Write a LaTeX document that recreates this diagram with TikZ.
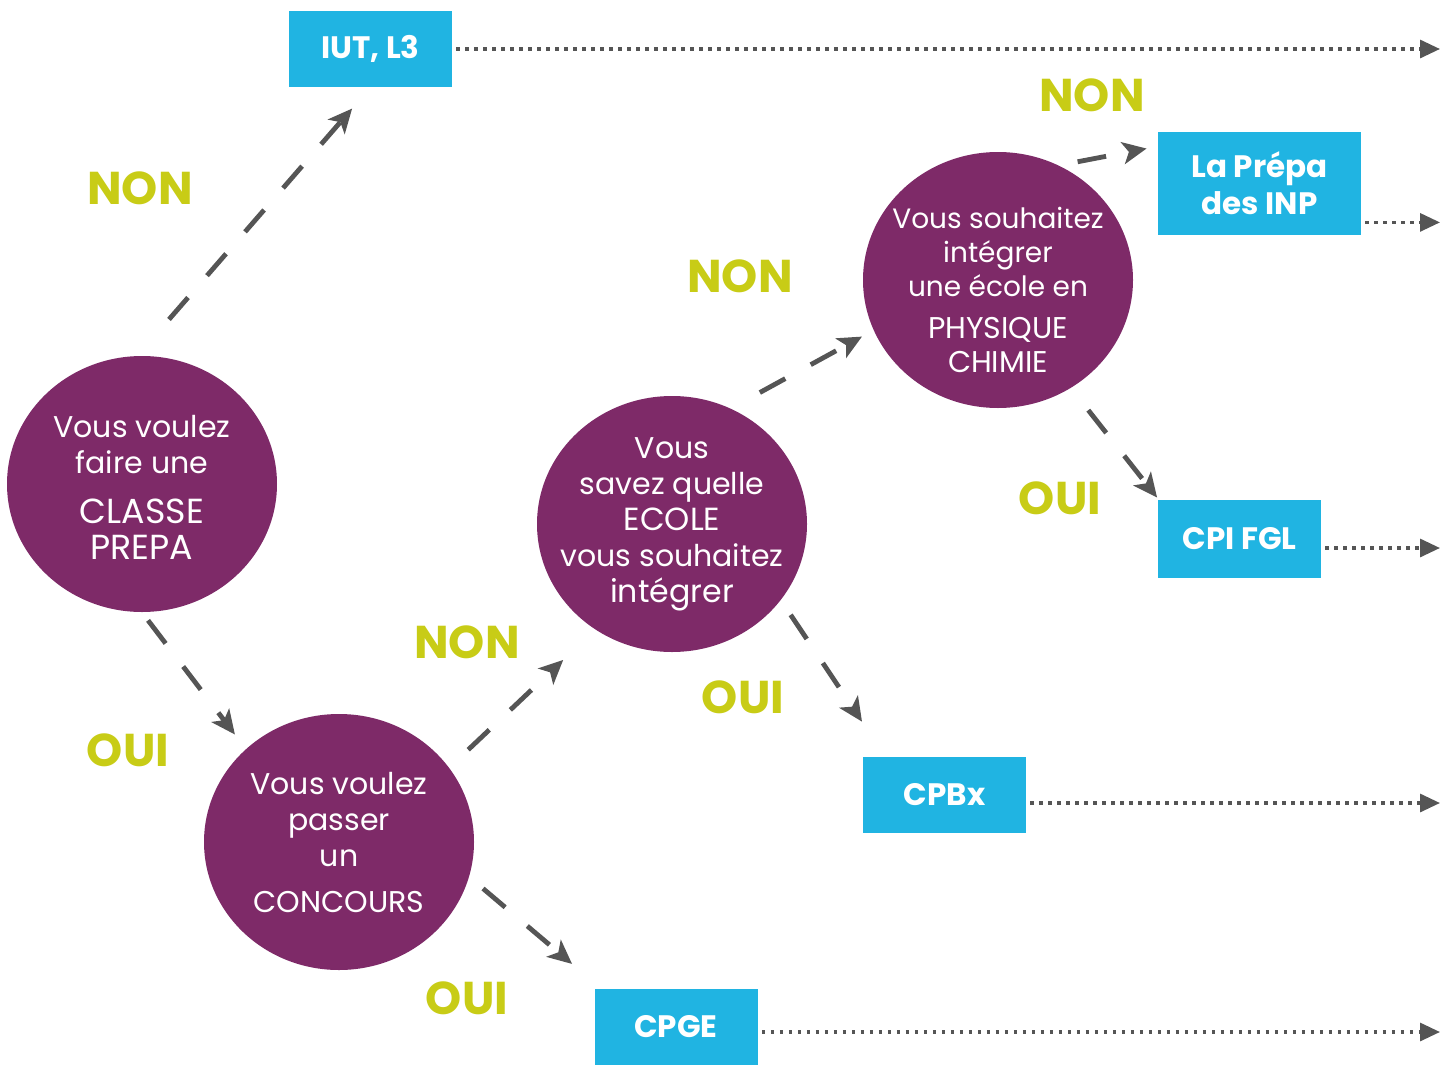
\documentclass[tikz,border=0pt]{standalone}
\usepackage{fontspec}
\setmainfont{Poppins}
\usepackage{xcolor}
\usepackage{tikz}
\usetikzlibrary{arrows,arrows.meta,positioning,shapes,calc}
\definecolor{prune}{RGB}{126,42,104}
\definecolor{ciel}{RGB}{32,180,226}
\definecolor{anis}{RGB}{200,204,22}
\definecolor{ardoise}{RGB}{85,85,85}
\newcommand{\grand}[2]{{\fontsize{#1}{18}\selectfont #2}}

\begin{document}
\begin{tikzpicture}[x = .5pt, y = -.5pt,
    bulle/.style = {ellipse, fill = prune, text = white, inner sep = -20pt, minimum width = 135pt, minimum height = 128pt, align = center, font = \fontsize{15}{18}\selectfont},
    boite/.style = {rectangle, fill = ciel, text = white, inner sep = 0pt, minimum width = 81.5pt, minimum height = 38pt, align = center, font = \bfseries\fontsize{15.5}{18.5}\selectfont},
    choix/.style = {text = anis, font = \bfseries\fontsize{23}{23}\selectfont},
    fleche/.style = {draw = ardoise, line width = 2.4pt, dash pattern = on 14.5pt off 14.5pt, -{Stealth[length = 12pt, width = 11pt, inset = 3pt]}},
    suite/.style = {draw = ardoise, line width = 1.6pt, dash pattern = on 1.6pt off 2.9pt, -{Triangle[length = 10pt, width = 9pt]}, shorten <= 2pt}]
    \useasboundingbox (0,0) rectangle (1447,1066);

    \node[bulle] (classe) at (142,484) {\rule{0pt}{14pt}Vous voulez\\faire une\\[7pt] \grand{17.4}{CLASSE}\\\grand{17.4}{PREPA}};
    \node[bulle] (concours) at (339,842) {Vous voulez\\passer\\un\\[5pt] CONCOURS};
    \node[bulle] (ecole) at (672,524) {Vous\\savez quelle\\\grand{16}{ECOLE}\\vous souhaitez\\\grand{15.8}{intégrer}};
    \node[bulle, font = \fontsize{14}{17}\selectfont] (physique) at (998,280) {\rule{0pt}{21pt}Vous souhaitez\\intégrer\\une école en\\[4pt] \grand{15}{PHYSIQUE}\\\grand{15}{CHIMIE}};

    \node[boite] (iut) at (370.5,49) {IUT, L3};
    \node[boite, minimum width = 101.5pt, minimum height = 51.5pt] (prepa) at (1259.5,183.5) {La Prépa\\des INP};
    \node[boite, minimum height = 39pt] (cpi) at (1239.5,539) {CPI FGL};
    \node[boite] (cpbx) at (944.5,795) {CPBx};
    \node[boite] (cpge) at (676,1026.5) {CPGE};

    \draw[fleche, shorten <= 24pt, shorten >= 14pt] (classe.92) -- (iut.south);
    \draw[fleche, shorten <= 5pt, shorten >= 9pt] (classe.270) -- (concours.135);
    \draw[fleche, shorten <= 13pt, shorten >= 22pt] (concours.34) -- (ecole.234);
    \draw[fleche, shorten <= 9pt, shorten >= 18.7pt] (concours.345) -- (cpge.153);
    \draw[fleche, shorten <= 16.5pt, shorten >= 6.5pt] (ecole.63) -- (physique.202);
    \draw[fleche, shorten <= 8.75pt, shorten >= 21pt] (ecole.325) -- (cpbx.147);
    \draw[fleche, shorten <= 9.5pt, shorten >= 5.6pt] (physique.62) -- (prepa.160);
    \draw[fleche, shorten <= 14pt, shorten >= 1.3pt] (physique.304) -- (cpi.154);

    % Sorties
    \coordinate (bout) at (1440,0);
    \coordinate (s1) at (iut.east);
    \coordinate (s2) at ([yshift = 6.5pt]prepa.south east);
    \coordinate (s3) at ([yshift = -4.5pt]cpi.east);
    \coordinate (s4) at ([yshift = -4pt]cpbx.east);
    \coordinate (s5) at ([yshift = -2.75pt]cpge.east);
    \foreach \s in {s1,s2,s3,s4,s5}
        \draw[suite] (\s) -- (\s -| bout);

    % Labels
    \node[choix] (non1) at (140,188) {NON};
    \node[choix] (oui1) at (128,750) {OUI};
    \node[choix] (non2) at (467,642) {NON};
    \node[choix] (oui2) at (467,998) {OUI};
    \node[choix] (non3) at (740,276) {NON};
    \node[choix] (oui3) at (743,697) {OUI};
    \node[choix] (non4) at (1092,95) {NON};
    \node[choix] (oui4) at (1060,498) {OUI};
\end{tikzpicture}
\end{document}
